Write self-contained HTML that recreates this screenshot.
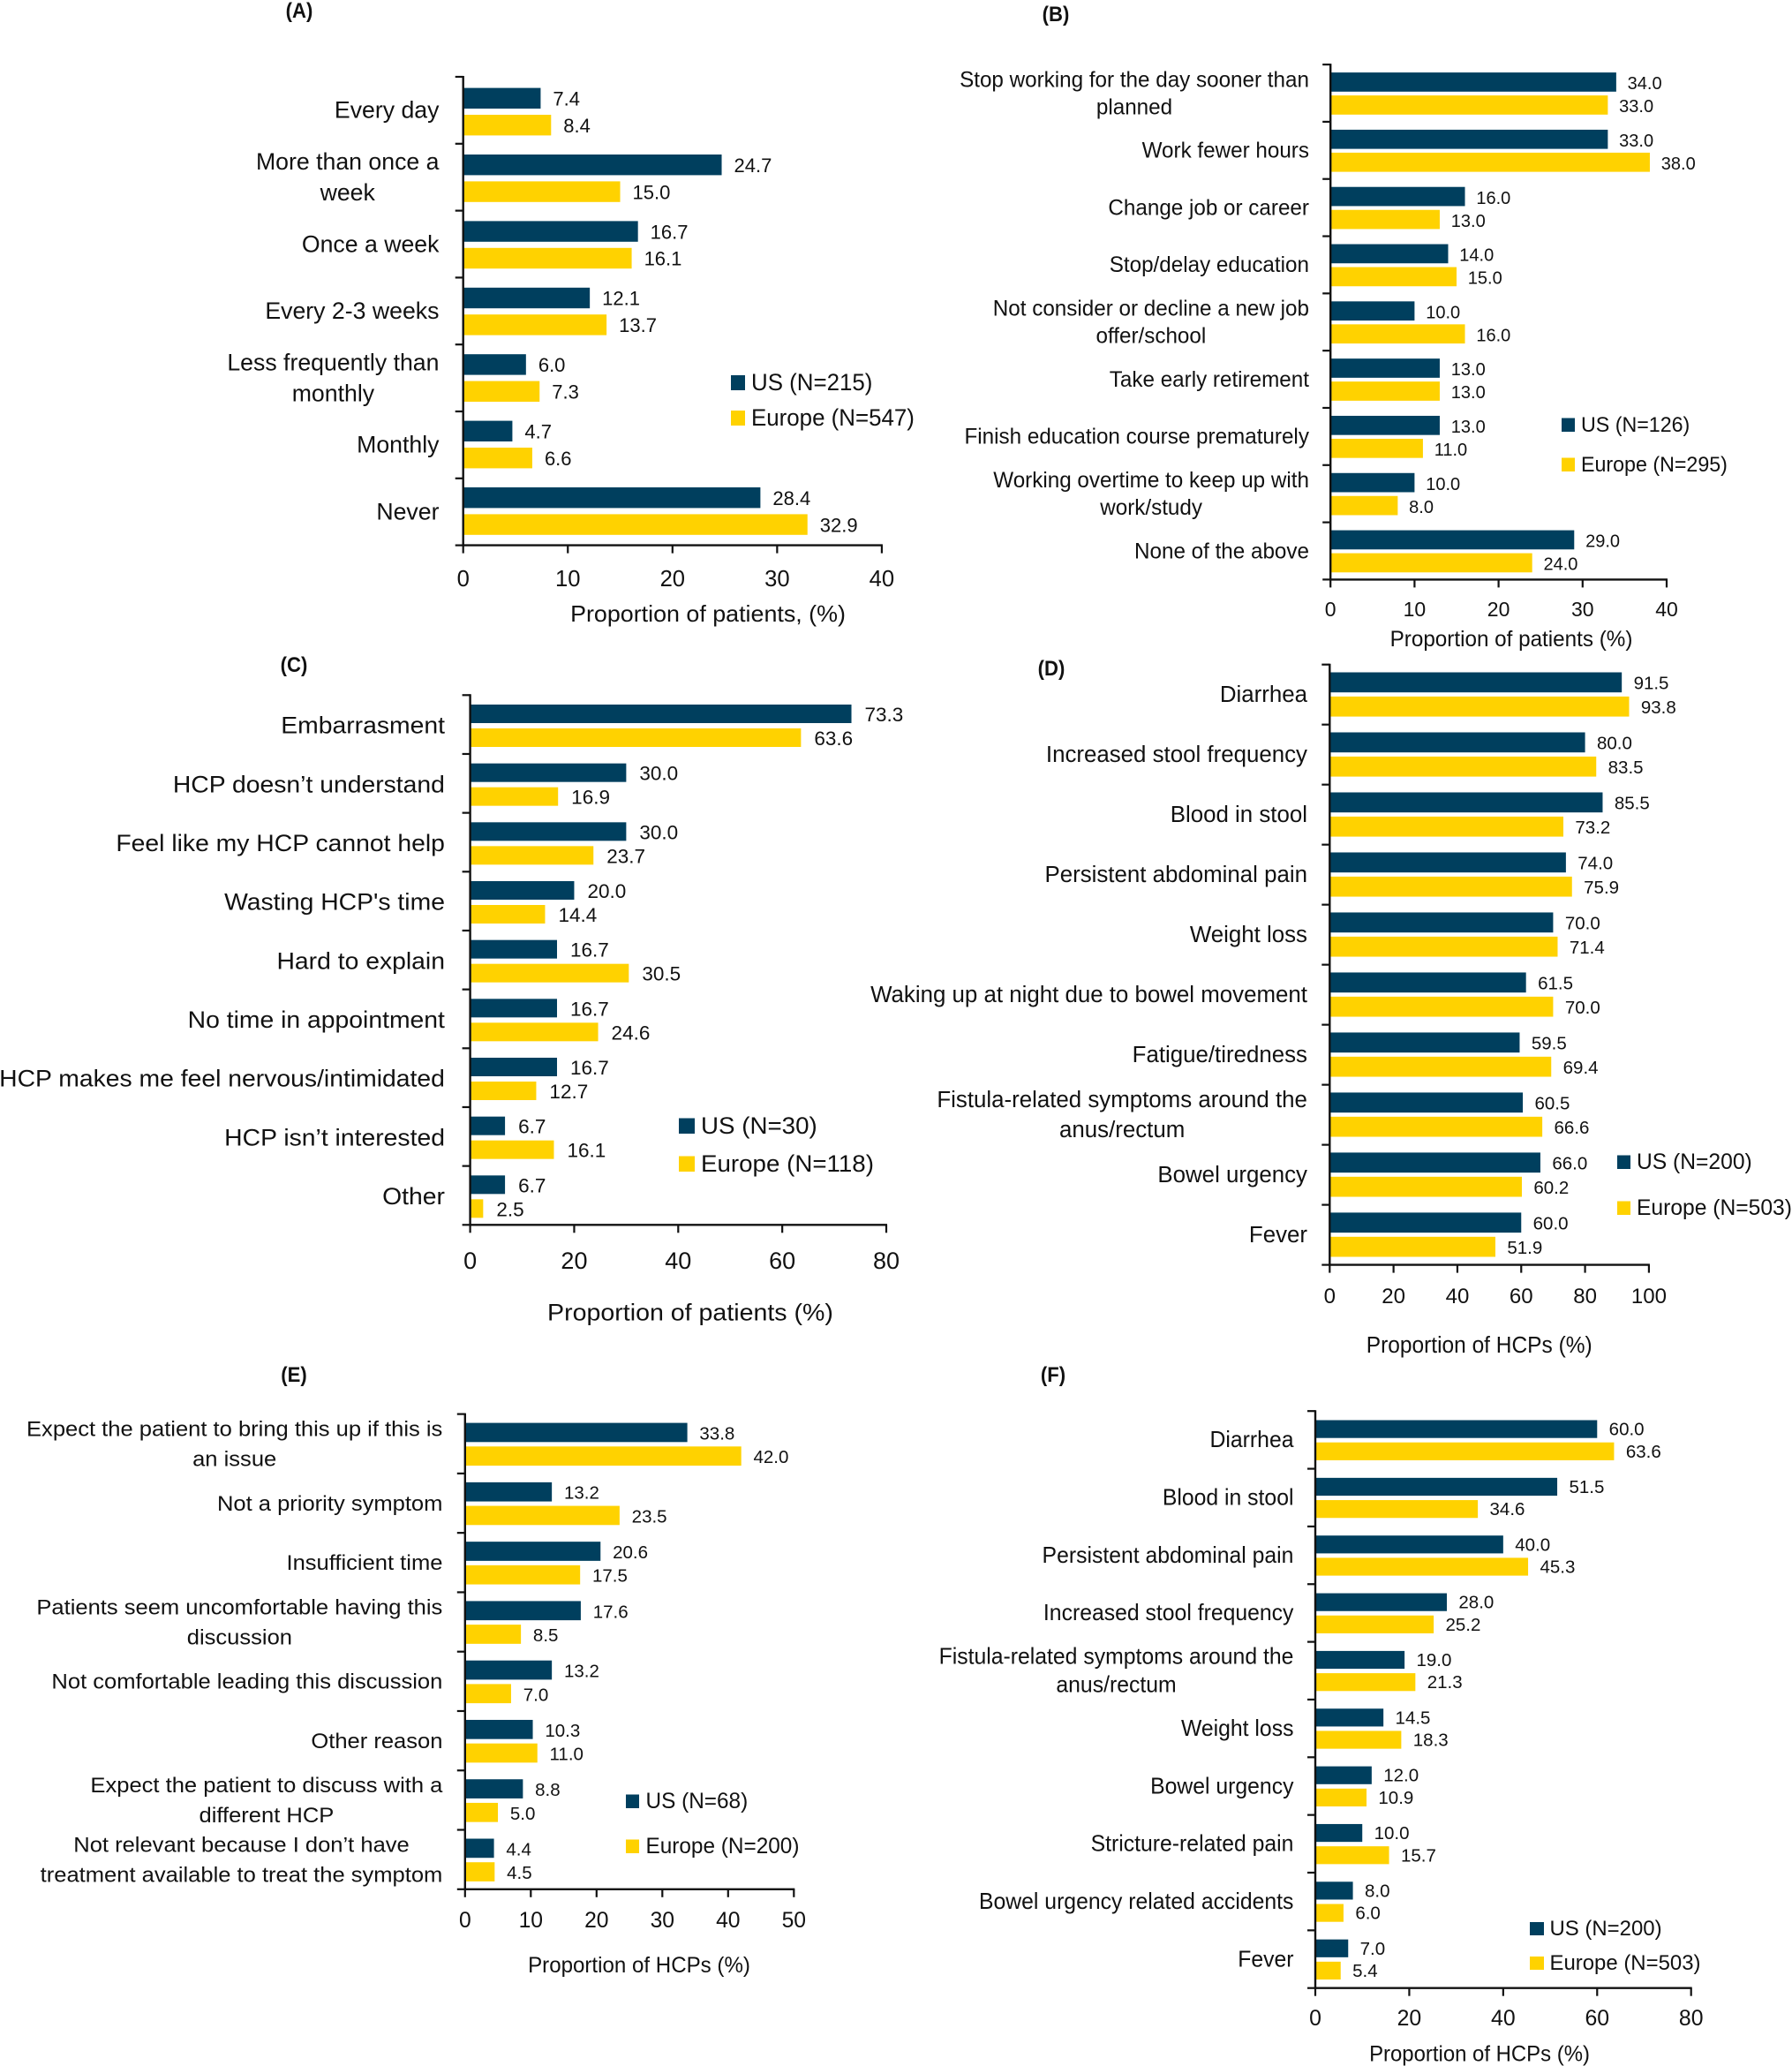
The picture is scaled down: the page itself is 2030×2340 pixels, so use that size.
<!DOCTYPE html>
<html lang="en">
<head>
<meta charset="utf-8">
<title>Bar chart panels A to F</title>
<style>
html,body{margin:0;padding:0;background:#fff;}
svg{display:block;}
text{font-family:"Liberation Sans",sans-serif;fill:#111;}
</style>
</head>
<body>
<svg id="figure" xmlns="http://www.w3.org/2000/svg" width="2030" height="2340" viewBox="0 0 2030 2340">
<rect width="2030" height="2340" fill="#ffffff"/>
</svg>
<script>
var categoriesA = ["Every day","More than once a|week","Once a week","Every 2-3 weeks","Less frequently than|monthly","Monthly","Never"];
var usA = [7.4,24.7,16.7,12.1,6.0,4.7,28.4];
var europeA = [8.4,15.0,16.1,13.7,7.3,6.6,32.9];
var ticksA = [0,10,20,30,40];

var categoriesB = ["Stop working for the day sooner than|planned","Work fewer hours","Change job or career","Stop/delay education","Not consider or decline a new job|offer/school","Take early retirement","Finish education course prematurely","Working overtime to keep up with|work/study","None of the above"];
var usB = [34.0,33.0,16.0,14.0,10.0,13.0,13.0,10.0,29.0];
var europeB = [33.0,38.0,13.0,15.0,16.0,13.0,11.0,8.0,24.0];
var ticksB = [0,10,20,30,40];

var categoriesC = ["Embarrasment","HCP doesn’t understand","Feel like my HCP cannot help","Wasting HCP's time","Hard to explain","No time in appointment","HCP makes me feel nervous/intimidated","HCP isn’t interested","Other"];
var usC = [73.3,30.0,30.0,20.0,16.7,16.7,16.7,6.7,6.7];
var europeC = [63.6,16.9,23.7,14.4,30.5,24.6,12.7,16.1,2.5];
var ticksC = [0,20,40,60,80];

var categoriesD = ["Diarrhea","Increased stool frequency","Blood in stool","Persistent abdominal pain","Weight loss","Waking up at night due to bowel movement","Fatigue/tiredness","Fistula-related symptoms around the|anus/rectum","Bowel urgency","Fever"];
var usD = [91.5,80.0,85.5,74.0,70.0,61.5,59.5,60.5,66.0,60.0];
var europeD = [93.8,83.5,73.2,75.9,71.4,70.0,69.4,66.6,60.2,51.9];
var ticksD = [0,20,40,60,80,100];

var categoriesE = ["Expect the patient to bring this up if this is|an issue","Not a priority symptom","Insufficient time","Patients seem uncomfortable having this|discussion","Not comfortable leading this discussion","Other reason","Expect the patient to discuss with a|different HCP","Not relevant because I don’t have|treatment available to treat the symptom"];
var usE = [33.8,13.2,20.6,17.6,13.2,10.3,8.8,4.4];
var europeE = [42.0,23.5,17.5,8.5,7.0,11.0,5.0,4.5];
var ticksE = [0,10,20,30,40,50];

var categoriesF = ["Diarrhea","Blood in stool","Persistent abdominal pain","Increased stool frequency","Fistula-related symptoms around the|anus/rectum","Weight loss","Bowel urgency","Stricture-related pain","Bowel urgency related accidents","Fever"];
var usF = [60.0,51.5,40.0,28.0,19.0,14.5,12.0,10.0,8.0,7.0];
var europeF = [63.6,34.6,45.3,25.2,21.3,18.3,10.9,15.7,6.0,5.4];
var ticksF = [0,20,40,60,80];

var NS = "http://www.w3.org/2000/svg";
var NAVY = "#003f5e";
var YELLOW = "#ffd200";
var AXIS = "#111111";
var root = document.getElementById("figure");

function addNode(parent, tag, attrs) {
  var n = document.createElementNS(NS, tag);
  for (var k in attrs) { n.setAttribute(k, attrs[k]); }
  parent.appendChild(n);
  return n;
}
function addText(parent, str, x, y, size, anchor, sx, weight) {
  var n = addNode(parent, "text", {
    "transform": "translate(" + x + " " + y + ") scale(" + sx + " 1)",
    "font-size": size,
    "text-anchor": anchor,
    "font-weight": weight || "normal"
  });
  n.textContent = str;
  return n;
}
function rawWidth(str, size, weight) {
  var n = addNode(root, "text", {"font-size": size, "font-weight": weight || "normal"});
  n.textContent = str;
  var w = n.getComputedTextLength();
  root.removeChild(n);
  return w;
}
function drawPanel(p, categories, usValues, europeValues, ticks) {
  var panel = addNode(root, "g", {});
  
  

  var maxV = ticks[ticks.length - 1];
  function xAxis(v) { return p.x0 + (v / maxV) * (p.x1 - p.x0); }
  var bandH = (p.y1 - p.y0) / categories.length;
  var barStep = p.barStep || bandH;
  function bandTop(i) { return p.y0 + i * bandH; }
  function barTop(i) { return p.y0 + p.padTop + i * barStep; }

  var heading = addText(panel, p.title, p.titleX, p.titleY, 24, "middle", 0.92, "bold");
  
  

  var labelScale = p.fitWidth / rawWidth(p.fitText, p.labelSize);

  categories.forEach(function (cat, i) {
    var top = bandTop(i);
    var usY = barTop(i);
    var usBar = addNode(panel, "rect", {x: p.x0, y: usY, width: xAxis(usValues[i]) - p.x0, height: p.barH, fill: NAVY});
    
    
    var euY = usY + p.barH + p.gap;
    var euBar = addNode(panel, "rect", {x: p.x0, y: euY, width: xAxis(europeValues[i]) - p.x0, height: p.barH, fill: YELLOW});
    
    

    var usVal = addText(panel, usValues[i].toFixed(1), xAxis(usValues[i]) + p.valOffset, usY + p.barH / 2 + p.valDy, p.valSize, "start", 1);
    
    
    var euVal = addText(panel, europeValues[i].toFixed(1), xAxis(europeValues[i]) + p.valOffset, euY + p.barH / 2 + p.valDy, p.valSize, "start", 1);
    
    

    var lines = cat.split("|");
    var widest = 0;
    lines.forEach(function (ln) { widest = Math.max(widest, rawWidth(ln, p.labelSize) * labelScale); });
    var cy = top + bandH / 2 + p.labelDy;
    lines.forEach(function (ln, j) {
      var by = cy + (j - (lines.length - 1) / 2) * p.lineGap;
      var lab = addText(panel, ln, p.labelRight - widest / 2, by, p.labelSize, "middle", labelScale);
      
      
    });
  });

  for (var t = 0; t <= categories.length; t++) {
    var yTick = addNode(panel, "line", {x1: p.x0 - 9, x2: p.x0, y1: bandTop(t), y2: bandTop(t), stroke: AXIS, "stroke-width": 2.2});
    
    
  }
  var yLine = addNode(panel, "line", {x1: p.x0, x2: p.x0, y1: p.y0 - 1, y2: p.y1 + 1, stroke: AXIS, "stroke-width": 2.4});
  
  
  var xLine = addNode(panel, "line", {x1: p.x0 - 1, x2: p.x1 + 1, y1: p.y1, y2: p.y1, stroke: AXIS, "stroke-width": 2.4});
  
  

  ticks.forEach(function (v) {
    var xTick = addNode(panel, "line", {x1: xAxis(v), x2: xAxis(v), y1: p.y1, y2: p.y1 + 9, stroke: AXIS, "stroke-width": 2.2});
    
    
    var tl = addText(panel, String(v), xAxis(v), p.tickY, p.tickSize, "middle", 1);
    
    
  });

  var axisScale = p.axisWidth / rawWidth(p.axisTitle, p.axisSize);
  var axisTitle = addText(panel, p.axisTitle, p.axisX, p.axisY, p.axisSize, "middle", axisScale);
  
  

  var legendScale = p.legendWidth / rawWidth(p.legendEurope, p.legendSize);
  var swatchW = p.swatchW;
  var usSwatch = addNode(panel, "rect", {x: p.swatchX, y: p.legendY1 - p.swatchH, width: swatchW, height: p.swatchH, fill: NAVY});
  
  
  var usLegend = addText(panel, p.legendUs, p.legendX, p.legendY1, p.legendSize, "start", legendScale);
  
  
  var euSwatch = addNode(panel, "rect", {x: p.swatchX, y: p.legendY2 - p.swatchH, width: swatchW, height: p.swatchH, fill: YELLOW});
  
  
  var euLegend = addText(panel, p.legendEurope, p.legendX, p.legendY2, p.legendSize, "start", legendScale);
  
  
}

var layoutA = {title:"(A)",titleX:339,titleY:20,x0:524.7,x1:998.9,y0:87,y1:617.6,padTop:12.6,barStep:75.4,barH:23.4,gap:7,
  valSize:22,valOffset:14,valDy:8.2,labelSize:26.5,labelRight:497.5,labelDy:8.8,lineGap:35,fitText:"More than once a",fitWidth:207.6,
  tickY:664,tickSize:25.6,axisTitle:"Proportion of patients, (%)",axisSize:26,axisX:802,axisY:704,axisWidth:312,
  legendUs:"US (N=215)",legendEurope:"Europe (N=547)",legendSize:26.5,legendX:851,legendY1:442,legendY2:482,legendWidth:185,swatchX:828,swatchW:16,swatchH:17};
var layoutB = {title:"(B)",titleX:1196,titleY:24,x0:1507.2,x1:1888,y0:73.1,y1:656.4,padTop:9,barH:21.7,gap:4.3,
  valSize:20,valOffset:12.8,valDy:8.2,labelSize:25,labelRight:1483,labelDy:8.3,lineGap:31,fitText:"Stop working for the day sooner than",fitWidth:396,
  tickY:698,tickSize:23,axisTitle:"Proportion of patients (%)",axisSize:25,axisX:1712,axisY:732,axisWidth:275,
  legendUs:"US (N=126)",legendEurope:"Europe (N=295)",legendSize:24,legendX:1791,legendY1:489,legendY2:534,legendWidth:166,swatchX:1769,swatchW:15,swatchH:15.5};
var layoutC = {title:"(C)",titleX:333,titleY:761,x0:532.6,x1:1004,y0:787.3,y1:1387.3,padTop:10.7,barH:21,gap:6,
  valSize:22.5,valOffset:15,valDy:8.5,labelSize:26.5,labelRight:504,labelDy:10,lineGap:34,fitText:"HCP makes me feel nervous/intimidated",fitWidth:505,
  tickY:1437,tickSize:27,axisTitle:"Proportion of patients (%)",axisSize:26.5,axisX:782,axisY:1495.5,axisWidth:324,
  legendUs:"US (N=30)",legendEurope:"Europe (N=118)",legendSize:27,legendX:794,legendY1:1284,legendY2:1327,legendWidth:196,swatchX:769,swatchW:18,swatchH:17.5};
var layoutD = {title:"(D)",titleX:1191,titleY:765,x0:1506.3,x1:1867.9,y0:752.7,y1:1432.6,padTop:8.8,barH:22.7,gap:4.7,
  valSize:20.5,valOffset:13.4,valDy:7.8,labelSize:26,labelRight:1481,labelDy:8.3,lineGap:34,fitText:"Waking up at night due to bowel movement",fitWidth:495,
  tickY:1476,tickSize:24,axisTitle:"Proportion of HCPs (%)",axisSize:25.5,axisX:1675.7,axisY:1532,axisWidth:256,
  legendUs:"US (N=200)",legendEurope:"Europe (N=503)",legendSize:25,legendX:1854,legendY1:1324,legendY2:1376,legendWidth:176,swatchX:1832,swatchW:15,swatchH:15.5};
var layoutE = {title:"(E)",titleX:333,titleY:1565,x0:526.8,x1:899.3,y0:1601.6,y1:2139.8,padTop:10,barH:21.7,gap:5,
  valSize:20.5,valOffset:13.8,valDy:8,labelSize:24.5,labelRight:501.5,labelDy:8.3,lineGap:34,fitText:"treatment available to treat the symptom",fitWidth:456,
  tickY:2183,tickSize:24.7,axisTitle:"Proportion of HCPs (%)",axisSize:25,axisX:724,axisY:2234,axisWidth:252,
  legendUs:"US (N=68)",legendEurope:"Europe (N=200)",legendSize:25,legendX:731.5,legendY1:2048,legendY2:2099,legendWidth:174,swatchX:709,swatchW:15,swatchH:15.5};
var layoutF = {title:"(F)",titleX:1193,titleY:1565,x0:1490,x1:1915.7,y0:1598.2,y1:2251.7,padTop:10.3,barH:20.2,gap:5,
  valSize:20.5,valOffset:13.4,valDy:7,labelSize:25.5,labelRight:1465.5,labelDy:8.3,lineGap:32,fitText:"Fistula-related symptoms around the",fitWidth:402,
  tickY:2294,tickSize:24.8,axisTitle:"Proportion of HCPs (%)",axisSize:25,axisX:1676,axisY:2334.5,axisWidth:250,
  legendUs:"US (N=200)",legendEurope:"Europe (N=503)",legendSize:24.5,legendX:1755.5,legendY1:2192,legendY2:2231,legendWidth:171,swatchX:1733,swatchW:16,swatchH:15};

drawPanel(layoutA, categoriesA, usA, europeA, ticksA);
drawPanel(layoutB, categoriesB, usB, europeB, ticksB);
drawPanel(layoutC, categoriesC, usC, europeC, ticksC);
drawPanel(layoutD, categoriesD, usD, europeD, ticksD);
drawPanel(layoutE, categoriesE, usE, europeE, ticksE);
drawPanel(layoutF, categoriesF, usF, europeF, ticksF);
</script>
</body>
</html>
